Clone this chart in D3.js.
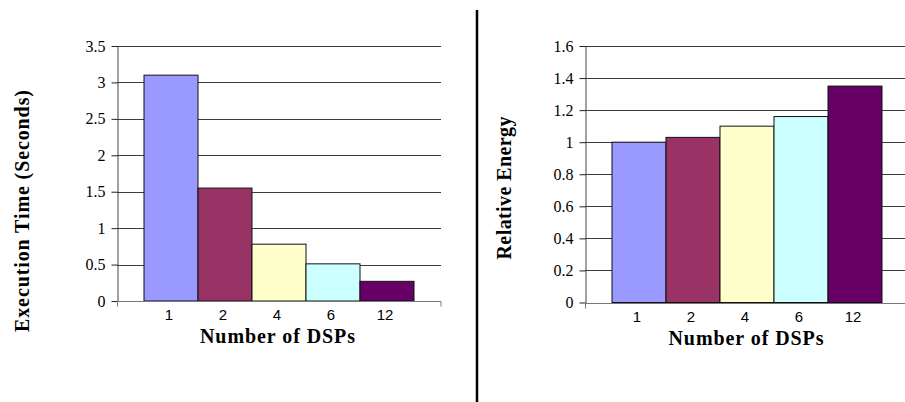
<!DOCTYPE html>
<html>
<head>
<meta charset="utf-8">
<script src="https://cdn.jsdelivr.net/npm/d3@7"></script>
<style>
  html, body { margin: 0; padding: 0; background: #fff; }
  svg { display: block; }
  .ytick text { font-family: 'Liberation Serif', 'Times New Roman', serif; font-size: 16px; fill: #000; }
  .cat { font-family: 'Liberation Sans', Arial, sans-serif; font-size: 15px; fill: #000; }
  .title { font-family: 'Liberation Serif', 'Times New Roman', serif; font-weight: bold; fill: #000; }
</style>
</head>
<body>
<svg id="chart" width="905" height="402"></svg>
<script>
// Shared categories (number of DSPs) and bar fills
const dspCounts = ["1", "2", "4", "6", "12"];
const barColors = ["#9999ff", "#993366", "#ffffcc", "#ccffff", "#660066"];

// Left panel: execution time in seconds
const execTime = [3.1, 1.55, 0.78, 0.51, 0.27];
const execTicks = [0, 0.5, 1, 1.5, 2, 2.5, 3, 3.5];

// Right panel: energy relative to a single DSP
const relEnergy = [1.0, 1.03, 1.10, 1.16, 1.35];
const energyTicks = [0, 0.2, 0.4, 0.6, 0.8, 1, 1.2, 1.4, 1.6];

const svg = d3.select("#chart");

function panel(cfg) {
  const g = svg.append("g");
  const x = d3.scaleBand().domain(dspCounts)
    .range([cfg.x0, cfg.x1]).paddingInner(0).paddingOuter(0.5);
  const y = d3.scaleLinear().domain([0, cfg.max]).range([cfg.y0, cfg.yTop]);

  // horizontal gridlines
  g.append("g").selectAll("line").data(cfg.ticks.filter(t => t > 0)).join("line")
    .attr("x1", cfg.x0).attr("x2", cfg.x1)
    .attr("y1", d => Math.round(y(d)) + 0.5).attr("y2", d => Math.round(y(d)) + 0.5)
    .attr("stroke", "#3a3a3a").attr("stroke-width", 1);

  // bars
  g.append("g").selectAll("rect").data(cfg.values).join("rect")
    .attr("x", (d, i) => x(dspCounts[i]))
    .attr("width", x.bandwidth())
    .attr("y", d => y(d))
    .attr("height", d => y(0) - y(d))
    .attr("fill", (d, i) => barColors[i])
    .attr("stroke", "#111").attr("stroke-width", 1);

  // y axis
  const yAxis = d3.axisLeft(y).tickValues(cfg.ticks).tickSize(6).tickSizeOuter(0)
    .tickFormat(d3.format("~g")).tickPadding(6);
  const ya = g.append("g").attr("class", "ytick")
    .attr("transform", `translate(${cfg.x0 + 0.5},0)`).call(yAxis)
    .attr("font-family", null).attr("font-size", null);
  ya.select(".domain").attr("stroke", "#444");
  ya.selectAll(".tick line").attr("stroke", "#222");

  // x axis line with end ticks
  const yz = Math.round(y(0)) + 0.5;
  g.append("line").attr("x1", cfg.x0).attr("x2", cfg.x1)
    .attr("y1", yz).attr("y2", yz).attr("stroke", "#777");
  [cfg.x0 + 0.5, cfg.x1].forEach(px => {
    g.append("line").attr("x1", px).attr("x2", px)
      .attr("y1", yz).attr("y2", yz + 5).attr("stroke", "#777");
  });

  // category labels centred under the bars
  g.append("g").selectAll("text").data(dspCounts).join("text")
    .attr("class", "cat")
    .attr("x", d => x(d) + x.bandwidth() / 2 - 2)
    .attr("y", cfg.catBase)
    .attr("text-anchor", "middle")
    .text(d => d);

  // axis titles
  g.append("text").attr("class", "title")
    .attr("x", cfg.xTitleX).attr("y", cfg.xTitleY)
    .attr("text-anchor", "middle")
    .style("font-size", "20px")
    .attr("textLength", 155).attr("lengthAdjust", "spacing")
    .text("Number of DSPs");

  g.append("text").attr("class", "title")
    .attr("transform", `translate(${cfg.yTitleX},${cfg.yTitleY}) rotate(-90)`)
    .attr("text-anchor", "middle")
    .style("font-size", "20px")
    .attr("textLength", cfg.yTitleLen).attr("lengthAdjust", "spacing")
    .text(cfg.yTitle);
}

panel({
  values: execTime, ticks: execTicks, max: 3.5,
  x0: 117, x1: 441, y0: 301, yTop: 46,
  catBase: 320,
  xTitleX: 277.5, xTitleY: 343,
  yTitle: "Execution Time (Seconds)", yTitleX: 29, yTitleY: 211, yTitleLen: 242
});

panel({
  values: relEnergy, ticks: energyTicks, max: 1.6,
  x0: 585, x1: 909, y0: 302.5, yTop: 46,
  catBase: 322,
  xTitleX: 746, xTitleY: 345,
  yTitle: "Relative Energy", yTitleX: 511, yTitleY: 188, yTitleLen: 143
});

// vertical divider between the two panels
svg.append("line").attr("x1", 477).attr("x2", 477).attr("y1", 10).attr("y2", 402)
  .attr("stroke", "#000").attr("stroke-width", 2.5);
</script>
</body>
</html>
